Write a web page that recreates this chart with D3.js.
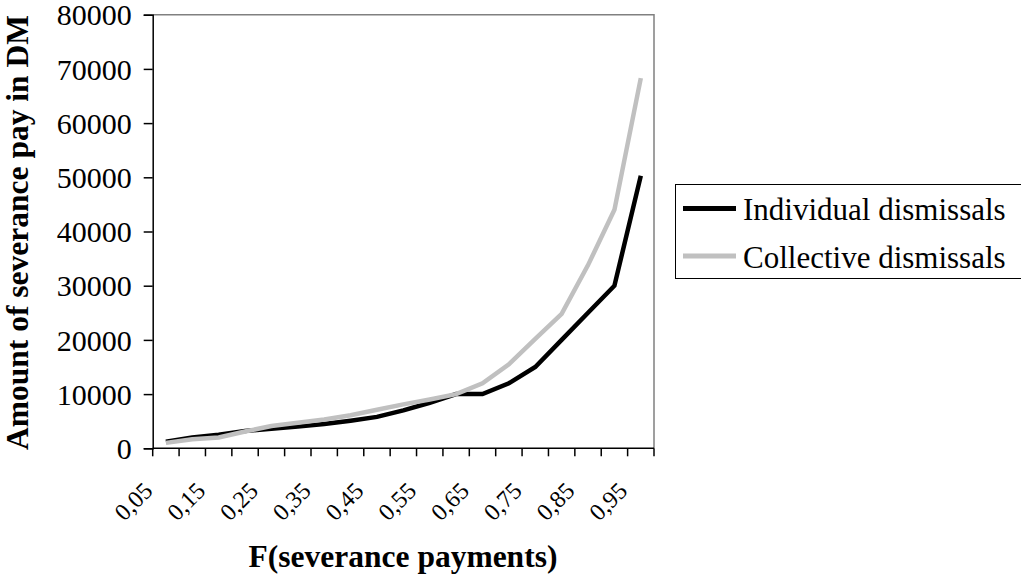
<!DOCTYPE html>
<html lang="en">
<head>
<meta charset="UTF-8">
<script src="https://cdn.jsdelivr.net/npm/d3@7"></script>
<style>
  body { margin: 0; background: #fff; }
  text { font-family: "Liberation Serif", "Times New Roman", serif; fill: #000; }
</style>
</head>
<body>
<script>
  var categories = ["0,05","0,10","0,15","0,20","0,25","0,30","0,35","0,40","0,45","0,50",
                    "0,55","0,60","0,65","0,70","0,75","0,80","0,85","0,90","0,95"];
  var individual = [1200, 2000, 2500, 3200, 3600, 4000, 4500, 5100, 5800, 7000,
                    8400, 10000, 10000, 12000, 15000, 20000, 25000, 30000, 50300];
  var collective = [1000, 1650, 2000, 3100, 4100, 4700, 5300, 6100, 7100, 8100,
                    9000, 10000, 12000, 15500, 20200, 24800, 33800, 44000, 68300];
  var yTicks = [0, 10000, 20000, 30000, 40000, 50000, 60000, 70000, 80000];
  var seriesNames = ["Individual dismissals", "Collective dismissals"];
  var seriesColors = ["#000000", "#c0c0c0"];

  var width = 1021, height = 578;
  var mLeft = 152.7, mTop = 14.7, plotW = 501.3, plotH = 433.6;

  var svg = d3.select('body').append('svg')
    .attr('width', width)
    .attr('height', height);

  var x = d3.scaleBand().domain(categories).range([mLeft, mLeft + plotW]);
  var y = d3.scaleLinear().domain([0, 80000]).range([mTop + plotH, mTop]);

  // plot frame (top and right)
  svg.append('path')
    .attr('d', 'M' + mLeft + ',' + mTop + 'H' + (mLeft + plotW) + 'V' + (mTop + plotH))
    .attr('fill', 'none')
    .attr('stroke', '#808080')
    .attr('stroke-width', 1.5);

  // y axis
  var yAxis = svg.append('g')
    .attr('transform', 'translate(' + mLeft + ',0)')
    .call(d3.axisLeft(y).tickValues(yTicks).tickSize(9).tickPadding(12).tickFormat(d3.format('d')));
  yAxis.select('.domain').attr('stroke', '#000').attr('stroke-width', 1.5);
  yAxis.selectAll('.tick line').attr('stroke', '#000').attr('stroke-width', 1.5);
  yAxis.selectAll('text')
    .style('font-family', '"Liberation Serif", serif')
    .style('font-size', '30px')
    .attr('dy', '0.34em');

  // x axis: ticks at band boundaries
  var xAxis = svg.append('g')
    .attr('transform', 'translate(0,' + (mTop + plotH) + ')');
  xAxis.append('line')
    .attr('x1', mLeft).attr('x2', mLeft + plotW)
    .attr('stroke', '#000').attr('stroke-width', 1.5);
  var bounds = categories.map(function(c) { return x(c); }).concat([mLeft + plotW]);
  xAxis.selectAll('.xt').data(bounds).enter().append('line')
    .attr('x1', function(d) { return d; })
    .attr('x2', function(d) { return d; })
    .attr('y1', 0).attr('y2', 8)
    .attr('stroke', '#000').attr('stroke-width', 1.5);
  xAxis.selectAll('.xl')
    .data(categories.filter(function(c, i) { return i % 2 === 0; }))
    .enter().append('text')
    .attr('transform', function(d) {
      return 'translate(' + (x(d) + x.bandwidth() / 2 - 12) + ',44) rotate(-45)';
    })
    .style('text-anchor', 'end')
    .style('font-size', '24px')
    .text(function(d) { return d; });

  // lines
  var line = d3.line()
    .x(function(d, i) { return x(categories[i]) + x.bandwidth() / 2; })
    .y(function(d) { return y(d); });

  [individual, collective].forEach(function(s, k) {
    svg.append('path')
      .datum(s)
      .attr('d', line)
      .attr('fill', 'none')
      .attr('stroke', seriesColors[k])
      .attr('stroke-width', 4.5)
      .attr('stroke-linejoin', 'miter');
  });

  // axis titles
  svg.append('text')
    .attr('x', 403)
    .attr('y', 566.7)
    .style('text-anchor', 'middle')
    .style('font-size', '31.5px')
    .style('font-weight', 'bold')
    .text('F(severance payments)');

  svg.append('text')
    .attr('transform', 'translate(28,232.5) rotate(-90)')
    .style('text-anchor', 'middle')
    .style('font-size', '31.5px')
    .style('font-weight', 'bold')
    .text('Amount of severance pay in DM');

  // legend
  var legend = svg.append('g');
  legend.append('rect')
    .attr('x', 675.5).attr('y', 184.5)
    .attr('width', 360).attr('height', 94)
    .attr('fill', '#fff')
    .attr('stroke', '#000')
    .attr('stroke-width', 1);
  seriesNames.forEach(function(n, k) {
    var ly = 208.5 + k * 47.5;
    legend.append('line')
      .attr('x1', 683).attr('x2', 736)
      .attr('y1', ly).attr('y2', ly)
      .attr('stroke', seriesColors[k])
      .attr('stroke-width', 5);
    legend.append('text')
      .attr('x', 743).attr('y', ly + 11.5)
      .style('font-size', '31px')
      .text(n);
  });
</script>
</body>
</html>
